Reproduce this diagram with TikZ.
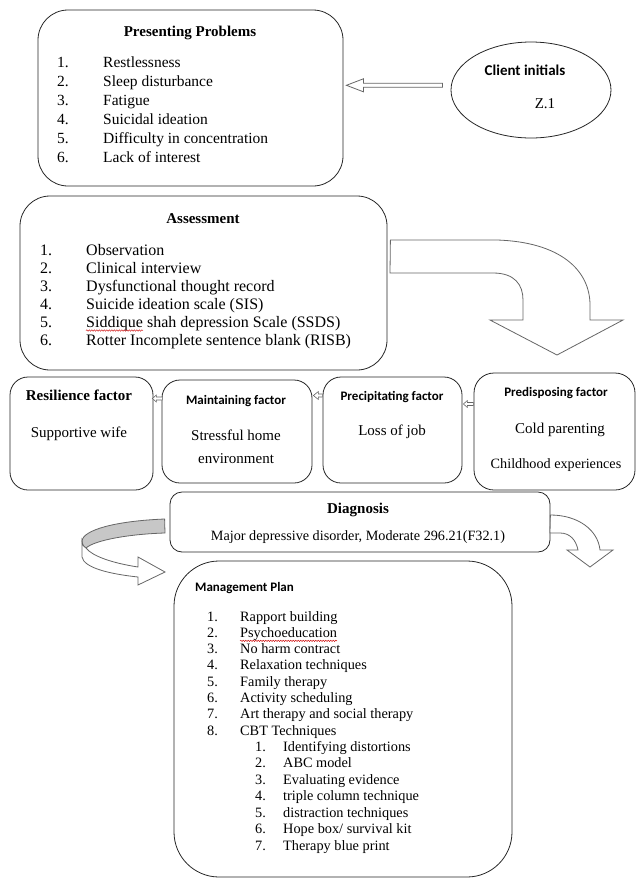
\documentclass[tikz,border=0pt]{standalone}
\usepackage{fontspec}
\setmainfont{Liberation Serif}
\newfontfamily\carl{Carlito}
\usetikzlibrary{calc,shapes.geometric,decorations.pathmorphing}
\begin{document}
\begin{tikzpicture}[x=1pt,y=-1pt,
  box/.style={draw=black!85, line width=0.8pt, rounded corners=#1, inner sep=0pt},
  box/.default=20pt,
  txt/.style={inner sep=0pt, anchor=base west, font=\fontsize{15.5}{18}\selectfont},
  atxt/.style={inner sep=0pt, anchor=base west, font=\fontsize{16}{18}\selectfont},
  mtxt/.style={inner sep=0pt, anchor=base west, font=\fontsize{14.3}{17}\selectfont},
  ctxt/.style={inner sep=0pt, anchor=base, font=\fontsize{15}{18}\selectfont},
  ttl/.style={inner sep=0pt, anchor=base, font=\fontsize{15}{18}\selectfont\bfseries},
  stl/.style={inner sep=0pt, anchor=base, font=\carl\fontsize{13}{15}\selectfont\bfseries},
  barrow/.style={draw=black!60, line width=0.8pt, fill=white, line join=miter},
  wavy/.style={red!80!black, line width=0.45pt, decorate, decoration={snake, amplitude=0.7pt, segment length=2.5pt}}]
\useasboundingbox (0,0) rectangle (643,879);

% ---------- boxes ----------
\node[box=30pt, minimum width=305pt, minimum height=176pt] (pres) at (190.5,98) {};
\node[draw=black!85, line width=0.8pt, ellipse, minimum width=160pt, minimum height=96pt] (client) at (531,90) {};
\node[box=30pt, minimum width=367pt, minimum height=174pt] (assess) at (203.5,283) {};
\node[box=18pt, minimum width=143pt, minimum height=113pt] (resil) at (81.5,433.5) {};
\node[box=18pt, minimum width=150pt, minimum height=103pt] (maint) at (237,431.5) {};
\node[box=18pt, minimum width=139pt, minimum height=106pt] (precip) at (392.5,430) {};
\node[box=20pt, minimum width=161pt, minimum height=117pt] (predis) at (554.5,431.5) {};
\node[box=12pt, minimum width=380pt, minimum height=60pt] (diag) at (360,522) {};
\node[box=45pt, minimum width=338pt, minimum height=316pt] (manage) at (343,719) {};

% ---------- presenting problems ----------
\node[ttl] (presT) at (190,36) {Presenting Problems};
\foreach \t [count=\i] in {Restlessness, Sleep disturbance, Fatigue, Suicidal ideation, Difficulty in concentration, Lack of interest}{
  \node[txt] (ppn\i) at (57,48+19*\i) {\i.};
  \node[txt] (pp\i) at (103,48+19*\i) {\t};
}

% ---------- client ----------
\node[stl, font=\carl\fontsize{15}{17}\selectfont\bfseries] (clientT) at (525,75) {Client initials};
\node[ctxt] (clientZ) at (545,108) {Z.1};

% arrow client -> presenting
\coordinate (t1) at ($(pres.east)+(3,-12.7)$);
\draw[barrow] (t1) -- ++(17,-6.5) -- ++(0,4.5) -- ++(79,0) -- ++(0,4) -- ++(-79,0) -- ++(0,4.5) -- cycle;

% ---------- assessment ----------
\node[ttl] (assT) at (203,223) {Assessment};
\foreach \t [count=\i] in {Observation, Clinical interview, Dysfunctional thought record, Suicide ideation scale (SIS), Siddique shah depression Scale (SSDS), Rotter Incomplete sentence blank (RISB)}{
  \node[atxt] (asn\i) at (40,237+18*\i) {\i.};
  \node[atxt] (as\i) at (86,237+18*\i) {\t};
}
\draw[wavy] ($(as5.base west)+(0,3.5)$) -- ++(57,0);

% big bent arrow assessment -> factors
\coordinate (b0) at ($(assess.east)+(3,-43)$);
\draw[barrow] (b0) -- (497,240) .. controls (560,242) and (590,270) .. (590,305) -- (590,320)
  -- (623,320) -- (557,355) -- (490,320) -- (523,320) -- (523,300)
  .. controls (523,285) and (515,273) .. (493,273) -- (390,273) -- cycle;

% ---------- factors ----------
\node[ttl] (resT) at (79,400) {Resilience factor};
\node[ctxt] (res1) at (79,437) {Supportive wife};

\node[stl] (maiT) at (236,404) {Maintaining factor};
\node[ctxt] (mai1) at (236,440) {Stressful home};
\node[ctxt] (mai2) at (236,463) {environment};

\node[stl] (preT) at (392,400) {Precipitating factor};
\node[ctxt] (pre1) at (392,435) {Loss of job};

\node[stl] (pdsT) at (556,396) {Predisposing factor};
\node[ctxt] (pds1) at (560,433) {Cold parenting};
\node[ctxt, font=\fontsize{14.2}{17}\selectfont] (pds2) at (556,468) {Childhood experiences};

% small hollow arrows between factor boxes
\coordinate (s1) at ($(resil.east)+(-1,-35)$);
\draw[barrow, line width=0.6pt] (s1) -- ++(4,-3.5) -- ++(0,2) -- ++(6,0) -- ++(0,3) -- ++(-6,0) -- ++(0,2) -- cycle;
\coordinate (s2) at ($(maint.east)+(1,-36)$);
\draw[barrow, line width=0.6pt] (s2) -- ++(5,-4) -- ++(0,2.5) -- ++(4,0) -- ++(0,3) -- ++(-4,0) -- ++(0,2.5) -- cycle;
\coordinate (s3) at ($(precip.east)+(1,-26)$);
\draw[barrow, line width=0.6pt] (s3) -- ++(4,-3.5) -- ++(0,2) -- ++(6,0) -- ++(0,3) -- ++(-6,0) -- ++(0,2) -- cycle;

% ---------- diagnosis ----------
\node[ttl] (diaT) at (358,513) {Diagnosis};
\node[ctxt, font=\fontsize{14.2}{17}\selectfont] (dia1) at (358,540) {Major depressive disorder, Moderate 296.21(F32.1)};

% left curl arrow
\coordinate (c0) at ($(diag.west)+(-5,-3)$);
\draw[barrow, fill=black!22] (c0) .. controls (115,521) and (83,530) .. (82,541)
  .. controls (82,545) and (84,547) .. (86,548)
  .. controls (95,540) and (130,534) .. (165,533) -- cycle;
\draw[barrow] (86,548) .. controls (83,546) and (82,544) .. (82,541) -- (82,557)
  .. controls (84,568) and (110,574) .. (138,577) -- (138,585) -- (165,572) -- (138,557) -- (138,567)
  .. controls (112,563) and (92,556) .. (86,548) -- cycle;

% right curved arrow
\coordinate (r0) at ($(diag.east)+(0,-7)$);
\draw[barrow] (r0) .. controls (578,515) and (598,530) .. (600,550) -- (613,550) -- (590,567) -- (567,550) -- (578,550)
  .. controls (576,540) and (570,533) .. (560,533) -- (550,533) -- cycle;

% ---------- management plan ----------
\node[stl, anchor=base west] (manT) at (195,591) {Management Plan};
\foreach \t [count=\i] in {Rapport building, Psychoeducation, No harm contract, Relaxation techniques, Family therapy, Activity scheduling, Art therapy and social therapy, CBT Techniques}{
  \node[mtxt] (mpn\i) at (207,604.7+16.3*\i) {\i.};
  \node[mtxt] (mp\i) at (240,604.7+16.3*\i) {\t};
}
\draw[wavy] ($(mp2.base west)+(0,3.5)$) -- ++(97,0);
\foreach \t [count=\i] in {Identifying distortions, ABC model, Evaluating evidence, triple column technique, distraction techniques, Hope box/ survival kit, Therapy blue print}{
  \node[mtxt] (cbn\i) at (255,734.5+16.5*\i) {\i.};
  \node[mtxt] (cb\i) at (283,734.5+16.5*\i) {\t};
}
\end{tikzpicture}
\end{document}
